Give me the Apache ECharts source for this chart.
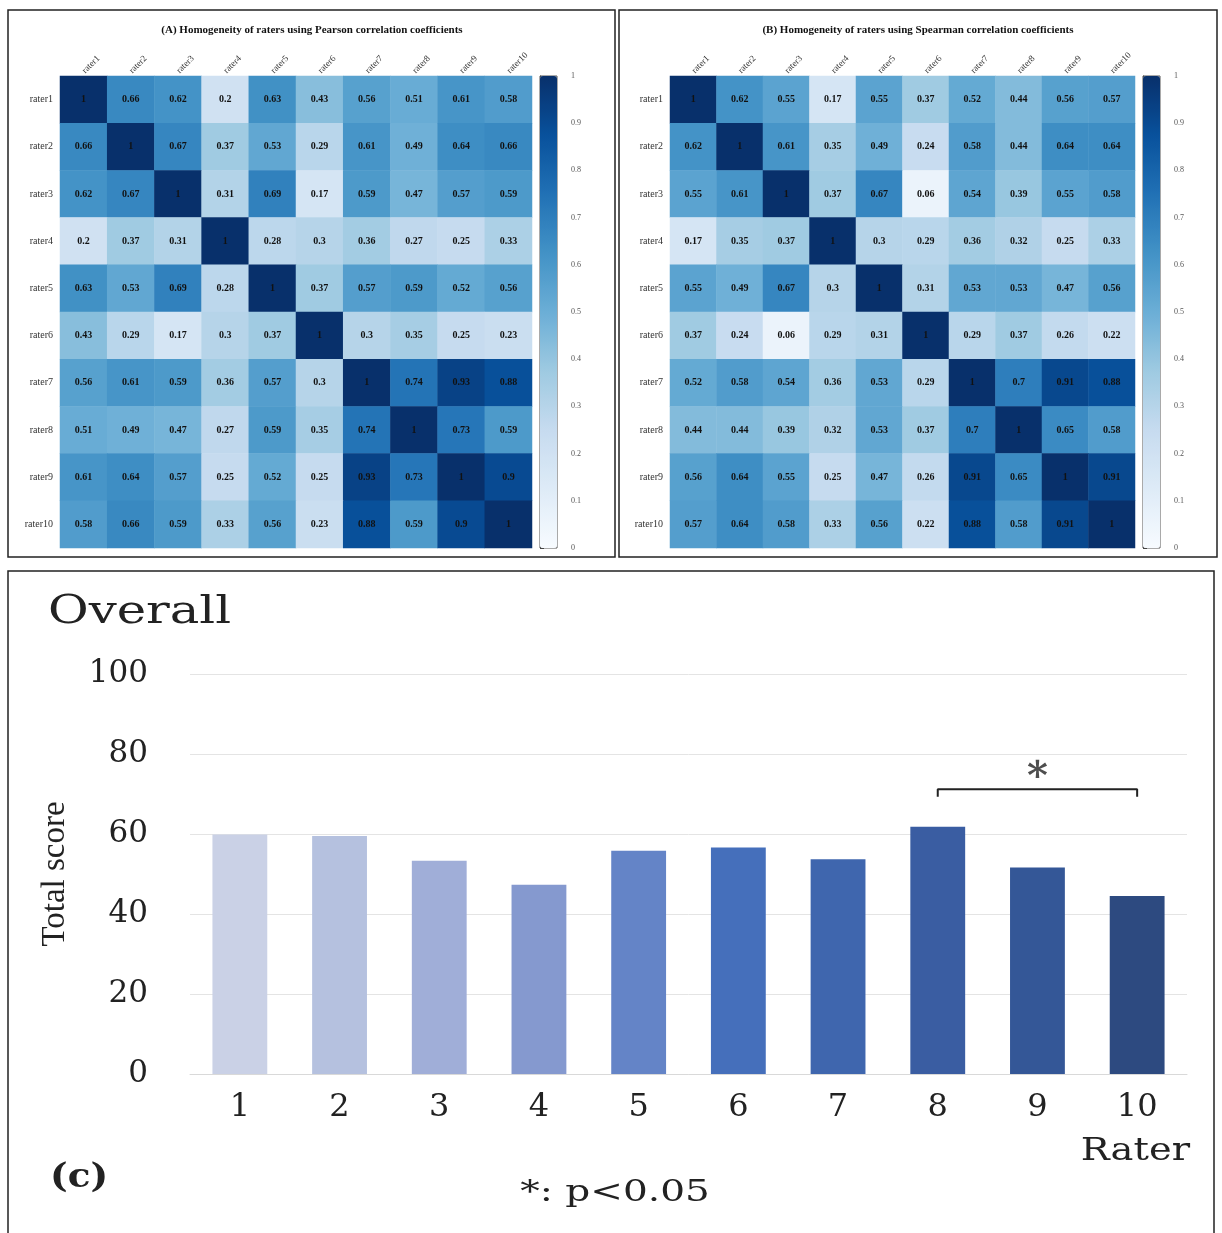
<!DOCTYPE html>
<html>
<head>
<meta charset="utf-8">
<script src="https://cdn.jsdelivr.net/npm/echarts@6/dist/echarts.min.js"></script>
<style>
html,body{margin:0;padding:0;background:#fff;}
#chart{width:1222px;height:1233px;}
</style>
</head>
<body>
<div id="chart"></div>
<script>
const raters = ['rater1','rater2','rater3','rater4','rater5','rater6','rater7','rater8','rater9','rater10'];

const pearson = [
  [1, 0.66, 0.62, 0.2, 0.63, 0.43, 0.56, 0.51, 0.61, 0.58],
  [0.66, 1, 0.67, 0.37, 0.53, 0.29, 0.61, 0.49, 0.64, 0.66],
  [0.62, 0.67, 1, 0.31, 0.69, 0.17, 0.59, 0.47, 0.57, 0.59],
  [0.2, 0.37, 0.31, 1, 0.28, 0.3, 0.36, 0.27, 0.25, 0.33],
  [0.63, 0.53, 0.69, 0.28, 1, 0.37, 0.57, 0.59, 0.52, 0.56],
  [0.43, 0.29, 0.17, 0.3, 0.37, 1, 0.3, 0.35, 0.25, 0.23],
  [0.56, 0.61, 0.59, 0.36, 0.57, 0.3, 1, 0.74, 0.93, 0.88],
  [0.51, 0.49, 0.47, 0.27, 0.59, 0.35, 0.74, 1, 0.73, 0.59],
  [0.61, 0.64, 0.57, 0.25, 0.52, 0.25, 0.93, 0.73, 1, 0.9],
  [0.58, 0.66, 0.59, 0.33, 0.56, 0.23, 0.88, 0.59, 0.9, 1]
];

const spearman = [
  [1, 0.62, 0.55, 0.17, 0.55, 0.37, 0.52, 0.44, 0.56, 0.57],
  [0.62, 1, 0.61, 0.35, 0.49, 0.24, 0.58, 0.44, 0.64, 0.64],
  [0.55, 0.61, 1, 0.37, 0.67, 0.06, 0.54, 0.39, 0.55, 0.58],
  [0.17, 0.35, 0.37, 1, 0.3, 0.29, 0.36, 0.32, 0.25, 0.33],
  [0.55, 0.49, 0.67, 0.3, 1, 0.31, 0.53, 0.53, 0.47, 0.56],
  [0.37, 0.24, 0.06, 0.29, 0.31, 1, 0.29, 0.37, 0.26, 0.22],
  [0.52, 0.58, 0.54, 0.36, 0.53, 0.29, 1, 0.7, 0.91, 0.88],
  [0.44, 0.44, 0.39, 0.32, 0.53, 0.37, 0.7, 1, 0.65, 0.58],
  [0.56, 0.64, 0.55, 0.25, 0.47, 0.26, 0.91, 0.65, 1, 0.91],
  [0.57, 0.64, 0.58, 0.33, 0.56, 0.22, 0.88, 0.58, 0.91, 1]
];

const colorbarTicks = [0, 0.1, 0.2, 0.3, 0.4, 0.5, 0.6, 0.7, 0.8, 0.9, 1];

const barCategories = ['1','2','3','4','5','6','7','8','9','10'];
const barValues = [59.9, 59.5, 53.3, 47.3, 55.8, 56.6, 53.7, 61.8, 51.6, 44.5];
const barColors = ['#cad1e6','#b5c1df','#a0aed8','#8599cf','#6484c7','#456fbb','#3f66ae','#3a5da2','#345797','#2d4a80'];

const bracketFrom = '8', bracketTo = '10', bracketMid = '9';
const bracketLevel = 71.2, bracketFoot = 69.3, starLevel = 73.8;

const blues = ['#f7fbff','#deebf7','#c6dbef','#9ecae1','#6baed6','#4292c6','#2171b5','#08519c','#08306b'];

function toCells(m) {
  const out = [];
  m.forEach((row, r) => row.forEach((v, c) => out.push([c, r, v])));
  return out;
}

const serif = 'Liberation Serif';
const wide = 'DejaVu Serif';

function heatX(gi) {
  return {
    type: 'category', gridIndex: gi, data: raters, position: 'top',
    axisLine: {show: false}, axisTick: {show: false}, splitLine: {show: false},
    axisLabel: {rotate: -45, fontSize: 9, fontFamily: serif, color: '#333', margin: 4, interval: 0}
  };
}
function heatY(gi) {
  return {
    type: 'category', gridIndex: gi, data: raters, inverse: true,
    axisLine: {show: false}, axisTick: {show: false}, splitLine: {show: false},
    axisLabel: {fontSize: 10, fontFamily: serif, color: '#333', margin: 7, interval: 0}
  };
}
function cbX(gi) {
  return {type: 'value', gridIndex: gi, show: false, min: 0, max: 1};
}
function cbY(gi) {
  return {
    type: 'value', gridIndex: gi, position: 'right', min: 0, max: 1, interval: 0.1,
    axisLine: {show: true, lineStyle: {color: '#444', width: 1}},
    axisTick: {show: true, length: 4, lineStyle: {color: '#444'}},
    splitLine: {show: false},
    axisLabel: {fontSize: 8, fontFamily: serif, color: '#555', margin: 14,
      formatter: v => colorbarTicks.includes(Math.round(v * 10) / 10) ? String(Math.round(v * 10) / 10) : ''}
  };
}
function heatSeries(name, m, gi) {
  return {
    name: name, type: 'heatmap', xAxisIndex: gi, yAxisIndex: gi, data: toCells(m),
    label: {show: true, fontSize: 10, fontWeight: 'bold', fontFamily: serif, color: '#111',
      formatter: p => String(p.value[2])},
    itemStyle: {borderWidth: 0},
    emphasis: {disabled: true}
  };
}

const chart = echarts.init(document.getElementById('chart'), null, {renderer: 'canvas'});
chart.setOption({
  animation: false,
  backgroundColor: '#fff',
  grid: [
    {left: 60, top: 76, width: 472, height: 472},
    {left: 670, top: 76, width: 465, height: 472},
    {left: 190, top: 674, width: 997, height: 400},
    {left: 540, top: 76, width: 17, height: 472, show: true, borderColor: '#555', borderWidth: 1, backgroundColor: 'transparent'},
    {left: 1143, top: 76, width: 17, height: 472, show: true, borderColor: '#555', borderWidth: 1, backgroundColor: 'transparent'}
  ],
  xAxis: [
    heatX(0), heatX(1),
    {
      type: 'category', gridIndex: 2, data: barCategories,
      axisLine: {show: true, lineStyle: {color: '#d9d9d9', width: 1}},
      axisTick: {show: false},
      axisLabel: {fontSize: 32, fontFamily: wide, color: '#222', margin: 18}
    },
    cbX(3), cbX(4)
  ],
  yAxis: [
    heatY(0), heatY(1),
    {
      type: 'value', gridIndex: 2, min: 0, max: 100, interval: 20,
      axisLine: {show: false}, axisTick: {show: false},
      splitLine: {lineStyle: {color: '#e4e4e4', width: 1}},
      axisLabel: {fontSize: 31, fontFamily: wide, color: '#222', margin: 42},
      name: 'Total score', nameLocation: 'middle', nameGap: 118,
      nameTextStyle: {fontSize: 33, fontFamily: serif, color: '#222'}
    },
    cbY(3), cbY(4)
  ],
  visualMap: [
    {type: 'continuous', seriesIndex: 0, min: 0, max: 1, calculable: false, orient: 'vertical',
     left: 540, top: 76, itemWidth: 17, itemHeight: 472, padding: 0, inRange: {color: blues}},
    {type: 'continuous', seriesIndex: 1, min: 0, max: 1, calculable: false, orient: 'vertical',
     left: 1143, top: 76, itemWidth: 17, itemHeight: 472, padding: 0, inRange: {color: blues}}
  ],
  series: [
    heatSeries('Pearson', pearson, 0),
    heatSeries('Spearman', spearman, 1),
    {
      name: 'Overall', type: 'bar', xAxisIndex: 2, yAxisIndex: 2, barWidth: '55%',
      data: barValues.map((v, i) => ({value: v, itemStyle: {color: barColors[i]}}))
    },
    {
      name: 'bracket', type: 'line', xAxisIndex: 2, yAxisIndex: 2, symbol: 'none',
      lineStyle: {color: '#222', width: 2},
      data: [[bracketFrom, bracketFoot], [bracketFrom, bracketLevel], [bracketTo, bracketLevel], [bracketTo, bracketFoot]]
    },
    {
      name: 'sig', type: 'scatter', xAxisIndex: 2, yAxisIndex: 2, symbolSize: 0,
      data: [[bracketMid, starLevel]],
      label: {show: true, position: 'inside', formatter: '*', fontSize: 40, fontWeight: 'bold', fontFamily: wide, color: '#222'}
    }
  ],
  graphic: [
    {type: 'rect', shape: {x: 8, y: 10, width: 607, height: 547}, style: {fill: 'none', stroke: '#222', lineWidth: 1.5}},
    {type: 'rect', shape: {x: 619, y: 10, width: 598, height: 547}, style: {fill: 'none', stroke: '#222', lineWidth: 1.5}},
    {type: 'rect', shape: {x: 8, y: 571, width: 1206, height: 700}, style: {fill: 'none', stroke: '#222', lineWidth: 1.5}},
    {type: 'text', x: 312, y: 30, style: {text: '(A) Homogeneity of raters using Pearson correlation coefficients',
      font: 'bold 11px "Liberation Serif"', fill: '#111', textAlign: 'center', textVerticalAlign: 'middle'}},
    {type: 'text', x: 918, y: 30, style: {text: '(B) Homogeneity of raters using Spearman correlation coefficients',
      font: 'bold 11px "Liberation Serif"', fill: '#111', textAlign: 'center', textVerticalAlign: 'middle'}},
    {type: 'text', x: 48, y: 613, scaleX: 1.24, style: {text: 'Overall', font: '40px "DejaVu Serif"', fill: '#222', textAlign: 'left', textVerticalAlign: 'middle'}},
    {type: 'text', x: 1190, y: 1152, scaleX: 1.2, style: {text: 'Rater', font: '32px "DejaVu Serif"', fill: '#222', textAlign: 'right', textVerticalAlign: 'middle'}},
    {type: 'text', x: 50, y: 1178, scaleX: 1.1, style: {text: '(c)', font: 'bold 34px "DejaVu Serif"', fill: '#222', textAlign: 'left', textVerticalAlign: 'middle'}},
    {type: 'text', x: 615, y: 1193, scaleX: 1.3, style: {text: '*: p<0.05', font: '30px "DejaVu Serif"', fill: '#222', textAlign: 'center', textVerticalAlign: 'middle'}}
  ]
});
</script>
</body>
</html>
